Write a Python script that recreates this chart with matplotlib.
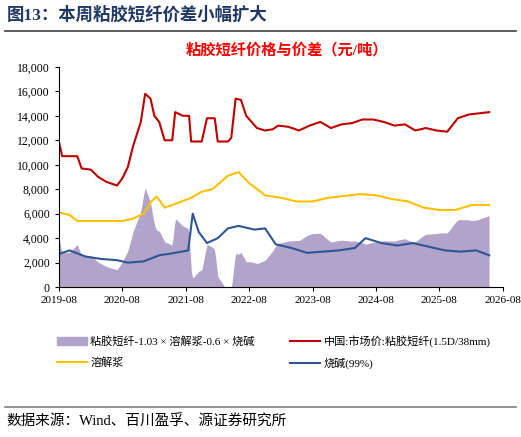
import matplotlib
matplotlib.use("Agg")
import matplotlib.pyplot as plt
import numpy as np
import pandas as pd
from matplotlib.lines import Line2D
from matplotlib.patches import Patch

FAM = ['Liberation Serif', 'Noto Sans CJK SC']

red_dates = ["2019-08-01","2019-08-20","2019-11-15","2019-12-10","2020-02-01","2020-03-15","2020-05-01","2020-07-01","2020-08-01","2020-09-01",
             "2020-10-01","2020-11-15","2020-12-10","2021-01-10","2021-02-01","2021-03-01","2021-04-01","2021-05-15","2021-06-01","2021-07-15",
             "2021-08-20","2021-09-01","2021-11-01","2021-12-01","2022-01-15","2022-02-01","2022-04-01","2022-04-20","2022-05-15","2022-06-15",
             "2022-07-15","2022-08-15","2022-09-15","2022-11-01","2022-12-15","2023-01-15","2023-03-15","2023-05-15","2023-07-15","2023-09-15",
             "2023-11-15","2024-01-15","2024-03-15","2024-05-15","2024-07-15","2024-09-15","2024-11-15","2025-01-15","2025-03-15","2025-05-15",
             "2025-07-15","2025-09-15","2025-11-15","2026-01-15","2026-03-15","2026-05-15"]
red_vals = [11900,10700,10700,9700,9600,9000,8600,8300,8900,9800,
            11500,13500,15800,15400,14000,13500,12000,12000,14300,14000,
            14000,11900,11900,13800,13800,11900,11900,12200,15400,15300,
            14000,13500,13000,12800,12900,13200,13100,12800,13200,13500,
            13000,13300,13400,13700,13700,13500,13200,13300,12800,13000,
            12800,12700,13800,14100,14200,14300]

yel_dates = ["2019-08-01","2019-10-01","2019-11-15","2020-08-01","2020-10-01","2020-12-01","2021-01-15","2021-02-15","2021-04-01","2021-06-01",
             "2021-09-01","2021-11-01","2022-01-01","2022-04-01","2022-06-01","2022-08-01","2022-11-01","2023-02-01","2023-05-01","2023-08-01",
             "2023-11-01","2024-01-01","2024-05-01","2024-08-01","2024-11-01","2025-02-01","2025-05-01","2025-08-01","2025-11-01","2026-02-01","2026-05-15"]
yel_vals = [6100,5900,5400,5400,5600,6000,7000,7400,6500,6800,
            7300,7800,8000,9100,9400,8500,7500,7300,7000,7000,
            7300,7400,7600,7500,7200,7000,6500,6300,6300,6700,6700]

blu_dates = ["2019-08-01","2019-10-01","2020-01-01","2020-04-01","2020-07-01","2020-09-01","2020-12-01","2021-03-01","2021-06-01","2021-08-15",
             "2021-09-10","2021-10-15","2021-12-01","2022-02-01","2022-04-01","2022-06-01","2022-09-01","2022-11-01","2023-01-01","2023-04-01",
             "2023-07-01","2023-10-01","2024-01-01","2024-04-01","2024-06-01","2024-09-01","2024-12-01","2025-03-01","2025-06-01","2025-09-01",
             "2025-12-01","2026-03-01","2026-05-15"]
blu_vals = [2700,3000,2500,2300,2200,2000,2100,2600,2800,3000,
            6000,4500,3600,4000,4800,5000,4700,4800,3500,3200,
            2800,2900,3000,3200,4000,3600,3400,3600,3300,3000,
            2900,3000,2600]

red = pd.Series(red_vals, index=pd.to_datetime(red_dates))
yel = pd.Series(yel_vals, index=pd.to_datetime(yel_dates))
blu = pd.Series(blu_vals, index=pd.to_datetime(blu_dates))
idx = pd.date_range("2019-08-01", "2026-05-15", freq="7D")
def on(s):
    return s.reindex(s.index.union(idx)).interpolate(method="time").reindex(idx)
spread = on(red) - 1.03 * on(yel) - 0.6 * on(blu)

fig = plt.figure(figsize=(5.21, 4.37), dpi=100)
ax = fig.add_axes([0.113, 0.343, 0.852, 0.504])
ax.fill_between(idx, 0, spread.values, color="#b1a3c9", lw=0)
ax.plot(red.index, red.values, color="#c00000", lw=1.5)
ax.plot(yel.index, yel.values, color="#ffc000", lw=1.5)
ax.plot(blu.index, blu.values, color="#2f5597", lw=1.5)

ax.set_ylim(0, 18000)
ax.set_yticks(range(0, 18001, 2000))
ax.set_yticklabels([f"{v:,}" for v in range(0, 18001, 2000)], family=FAM, fontsize=8.5)
ax.set_xlim(pd.Timestamp("2019-08-01"), pd.Timestamp("2026-08-01"))
ticks = pd.date_range("2019-08-01", "2026-08-01", freq="12MS")
ax.set_xticks(ticks)
ax.set_xticklabels([t.strftime("%Y-%m") for t in ticks], family=FAM, fontsize=8)
for s in ["top", "right"]:
    ax.spines[s].set_visible(False)
ax.tick_params(length=3, direction="out")

h_spread = Patch(color="#b1a3c9")
h_red = Line2D([], [], color="#c00000", lw=1.5)
h_yel = Line2D([], [], color="#ffc000", lw=1.5)
h_blu = Line2D([], [], color="#2f5597", lw=1.5)
handles = [h_spread, h_yel, h_red, h_blu]
labels = ["粘胶短纤-1.03 × 溶解浆-0.6 × 烧碱", "溶解浆", "中国:市场价:粘胶短纤(1.5D/38mm)", "烧碱(99%)"]
fig.legend(handles, labels, ncol=2, loc="upper left", bbox_to_anchor=(0.09, 0.255), frameon=False,
           prop={"family": FAM, "size": 8}, handlelength=2.7, columnspacing=3.2, labelspacing=0.9, handletextpad=0.3)

fig.text(0.012, 0.965, "图13：本周粘胶短纤价差小幅扩大", family=FAM, fontsize=12.5, fontweight="bold", color="#1f3864", va="center")
fig.add_artist(Line2D([0.01, 0.99], [0.929, 0.929], color="#404040", lw=1.2))
fig.text(0.55, 0.885, "粘胶短纤价格与价差（元/吨）", family=FAM, fontsize=11, fontweight="bold", color="#ff0000", ha="center", va="center")
fig.add_artist(Line2D([0.01, 0.99], [0.069, 0.069], color="#808080", lw=1.2))
fig.text(0.012, 0.035, "数据来源：Wind、百川盈孚、源证券研究所", family=FAM, fontsize=10.5, va="center")

fig.savefig("out.png", dpi=100)
